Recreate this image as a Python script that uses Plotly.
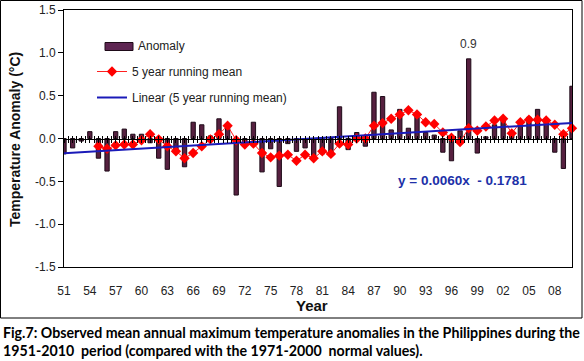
import plotly.graph_objects as go

years = list(range(1951, 2011))
anomaly = [
    -0.18, -0.11, -0.03, 0.08, -0.23, -0.38, 0.08, 0.11, 0.05, 0.05,
    -0.05, -0.23, -0.36, -0.17, -0.33, 0.19, 0.16, 0.03, 0.23, 0.13,
    -0.66, -0.06, 0.19, -0.39, -0.12, -0.56, -0.06, -0.15, -0.11, -0.23,
    -0.18, -0.17, 0.37, -0.13, 0.07, -0.09, 0.54, 0.49, 0.10, 0.34,
    0.12, 0.29, 0.07, 0.04, -0.16, -0.26, 0.09, 0.93, -0.17, 0.02,
    0.16, 0.21, 0.04, 0.21, 0.25, 0.34, 0.22, -0.16, -0.35, 0.61,
]
running_mean = [
    None, None, None, None, -0.09, -0.12, -0.08, -0.07, -0.07, -0.02,
    0.05, -0.01, -0.09, -0.15, -0.23, -0.17, -0.09, -0.01, 0.05, 0.15,
    -0.02, -0.07, -0.06, -0.17, -0.22, -0.20, -0.19, -0.26, -0.19, -0.23,
    -0.15, -0.18, -0.06, -0.07, 0.00, 0.00, 0.15, 0.18, 0.23, 0.28,
    0.33, 0.28, 0.19, 0.17, 0.07, 0.01, -0.04, 0.12, 0.09, 0.14,
    0.21, 0.23, 0.06, 0.19, 0.22, 0.22, 0.21, 0.16, 0.05, 0.12,
]
trend_slope = 0.0060
trend_intercept = -0.1781
tick_years = list(range(1951, 2011, 3))
tick_labels = ["51", "54", "57", "60", "63", "66", "69", "72", "75", "78",
               "81", "84", "87", "90", "93", "96", "99", "02", "05", "08"]
y_ticks = [1.5, 1.0, 0.5, 0.0, -0.5, -1.0, -1.5]
y_labels = ["1.5", "1.0", "0.5", "0.0", "-0.5", "-1.0", "-1.5"]

trend_x = [years[0], years[-1]]
trend_y = [trend_slope * 1 + trend_intercept, trend_slope * len(years) + trend_intercept]

W, H = 584, 361
L, R, T, B = 64, 572, 10, 267

def px(xp):
    return (xp - L) / (R - L)

def py(yp):
    return (B - yp) / (B - T)

BAR_FILL = "#56203f"
BAR_EDGE = "#1e0a18"

fig = go.Figure()
fig.add_trace(go.Bar(
    x=years, y=anomaly, name="Anomaly", width=0.5,
    marker=dict(color=BAR_FILL, line=dict(color=BAR_EDGE, width=1)),
    showlegend=False,
))
fig.add_trace(go.Scatter(
    x=years, y=running_mean, name="5 year running mean", mode="lines+markers",
    line=dict(color="#ff2020", width=1),
    marker=dict(symbol="diamond", size=8, color="#ff0000"),
    cliponaxis=False, legendgroup="b",
))
fig.add_trace(go.Scatter(
    x=trend_x, y=trend_y, name="Linear (5 year running mean)", mode="lines",
    line=dict(color="#1a1ab8", width=2), legendgroup="c",
))
for ax in ["x2", "x3"]:
    fig.add_trace(go.Scatter(x=[years[0]], y=[0], xaxis=ax, mode="markers",
                             marker=dict(opacity=0), showlegend=False, hoverinfo="skip"))

font_sans = "Liberation Sans, Arial, sans-serif"

common_x = dict(range=[1951, 2010], showgrid=False, zeroline=False, automargin=False)
fig.update_layout(
    template="none",
    width=W, height=H,
    margin=dict(l=L, r=W - R, t=T, b=H - B, pad=0),
    paper_bgcolor="white", plot_bgcolor="white",
    font=dict(family=font_sans, size=12, color="#222"),
    showlegend=True,
    legend=dict(x=px(92), y=py(57), xanchor="left", yanchor="top",
                bgcolor="rgba(0,0,0,0)", borderwidth=0, font=dict(size=12, color="#222"),
                tracegroupgap=7, traceorder="grouped"),
    xaxis=dict(**common_x, tickmode="array", tickvals=tick_years, ticktext=tick_labels,
               ticks="", showline=True, linecolor="black", linewidth=1, mirror=True,
               ticklabelstandoff=13, tickfont=dict(size=12, color="#222")),
    xaxis2=dict(**common_x, overlaying="x", anchor="free", position=0.5,
                showticklabels=False, ticks="outside", ticklen=3, tickcolor="black",
                tickwidth=1, dtick=0.5, tick0=1951, showline=True, linecolor="black", linewidth=1),
    xaxis3=dict(**common_x, overlaying="x", anchor="free", position=0.5,
                showticklabels=False, ticks="inside", ticklen=3, tickcolor="black",
                tickwidth=1, dtick=0.5, tick0=1951, showline=False),
    yaxis=dict(range=[-1.5, 1.5], tickmode="array", tickvals=y_ticks, ticktext=y_labels,
               ticks="outside", ticklen=5, tickcolor="black", tickwidth=1, showgrid=False,
               zeroline=False, automargin=False,
               showline=True, linecolor="black", linewidth=1, mirror=True,
               tickfont=dict(size=12, color="#222")),
    bargap=0.5,
)

# manual legend entry for the bars (wide swatch as in the original)
fig.add_shape(type="rect", xref="paper", yref="paper",
              x0=px(105), x1=px(133), y0=py(50.5), y1=py(42.5),
              line=dict(color=BAR_EDGE, width=1), fillcolor="#5e2552")
fig.add_annotation(x=px(136), y=py(46), xref="paper", yref="paper", xanchor="left",
                   yanchor="middle", text="Anomaly", showarrow=False,
                   font=dict(size=12, color="#222"))

fig.add_annotation(x=1998, y=1.1, text="0.9", showarrow=False, xanchor="center",
                   yanchor="middle", font=dict(size=12, color="#333"))
fig.add_annotation(x=px(462), y=py(180), xref="paper", yref="paper",
                   xanchor="center", yanchor="middle",
                   text="<b>y = 0.0060x\u00a0\u00a0- 0.1781</b>", showarrow=False,
                   font=dict(size=13.5, color="#2030a8"))
fig.add_annotation(x=px(15), y=py(140), xref="paper", yref="paper",
                   xanchor="center", yanchor="middle",
                   text="<b>Temperature Anomaly (°C)</b>", textangle=-90, showarrow=False,
                   font=dict(size=14, color="#111"))
fig.add_annotation(x=px(312), y=py(305), xref="paper", yref="paper",
                   xanchor="center", yanchor="middle",
                   text="<b>Year</b>", showarrow=False, font=dict(size=15, color="#111"))
fig.add_annotation(x=px(1), y=py(322), xref="paper", yref="paper", xanchor="left", yanchor="top",
                   align="left", showarrow=False,
                   text="<b>Fig.7: Observed mean annual maximum temperature anomalies in the Philippines during the<br>1951-2010\u00a0 period (compared with the 1971-2000\u00a0 normal values).</b>",
                   font=dict(family="Lato, sans-serif", size=14.2, color="#000"))
fig.add_shape(type="rect", xref="paper", yref="paper",
              x0=px(0.5), x1=px(582), y0=py(318), y1=py(0.5),
              line=dict(color="black", width=1), fillcolor="rgba(0,0,0,0)", layer="below")

fig.write_html("out.html", config={"displayModeBar": False},
               post_script="document.body.style.margin='0px';")
